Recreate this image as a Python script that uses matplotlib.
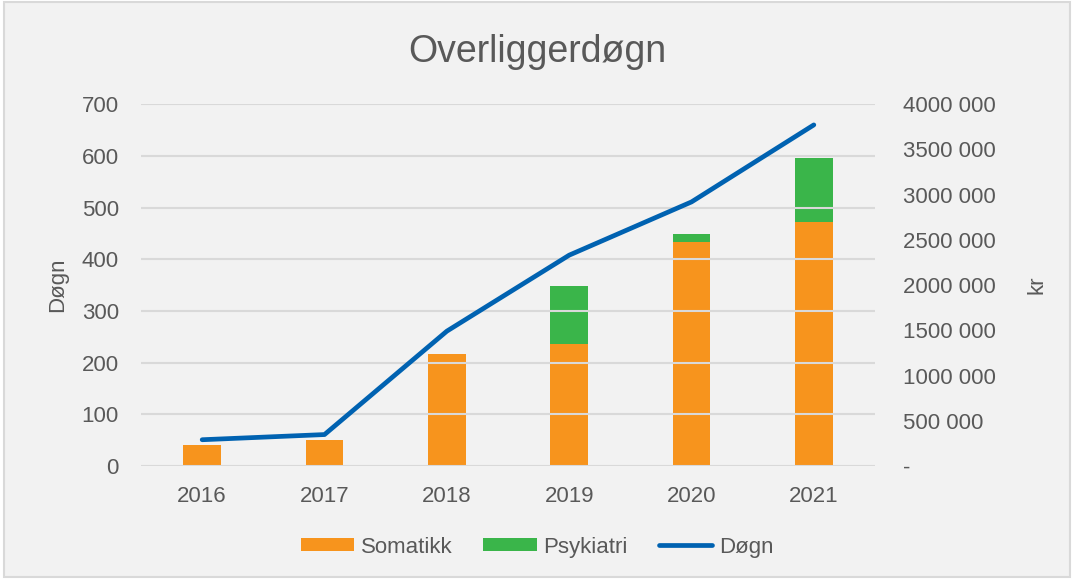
import matplotlib.pyplot as plt
from matplotlib.patches import Rectangle

plt.rcParams['font.family'] = ['Liberation Sans', 'DejaVu Sans']

years = ['2016', '2017', '2018', '2019', '2020', '2021']
somatikk_kr = [228000, 284000, 1234000, 1348000, 2479000, 2694000]
psykiatri_kr = [0, 0, 0, 638000, 88000, 710000]
dogn = [51, 61, 261, 408, 511, 660]

left_ticks = [0, 100, 200, 300, 400, 500, 600, 700]
right_ticks = [0, 500000, 1000000, 1500000, 2000000, 2500000, 3000000, 3500000, 4000000]
right_labels = ['-', '500 000', '1000 000', '1500 000', '2000 000', '2500 000',
                '3000 000', '3500 000', '4000 000']

bg = '#F2F2F2'
txt = '#595959'
c_som = '#F7941D'
c_psy = '#3AB54A'
c_line = '#0062B1'

fig = plt.figure(figsize=(10.74, 5.79), dpi=100, facecolor='white')
fig.patches.append(Rectangle((0.004, 0.004), 0.992, 0.992, transform=fig.transFigure,
                             facecolor=bg, edgecolor='#D9D9D9', lw=1.5, zorder=-10))

ax1 = fig.add_axes([0.1313, 0.195, 0.6834, 0.625])
ax2 = ax1.twinx()

x = list(range(len(years)))
ax2.bar(x, somatikk_kr, width=0.31, color=c_som, label='Somatikk')
ax2.bar(x, psykiatri_kr, width=0.31, bottom=somatikk_kr, color=c_psy, label='Psykiatri')
ax1.plot(x, dogn, color=c_line, lw=3.4, solid_capstyle='round', solid_joinstyle='round',
         label='Døgn')

ax1.set_zorder(ax2.get_zorder() + 1)
ax1.patch.set_visible(False)
ax2.patch.set_visible(False)

ax1.set_xlim(-0.5, 5.5)
ax1.set_ylim(0, 700)
ax2.set_ylim(0, 4000000)
ax1.set_yticks(left_ticks)
ax2.set_yticks(right_ticks)
ax2.set_yticklabels(right_labels)
ax1.set_xticks(x)
ax1.set_xticklabels(years)

ax1.yaxis.grid(True, color='#D9D9D9', lw=1.5)
ax1.set_axisbelow(True)
for a in (ax1, ax2):
    for s in a.spines.values():
        s.set_visible(False)
    a.tick_params(length=0, labelsize=16, colors=txt)
ax1.tick_params(axis='y', pad=16)
ax1.tick_params(axis='x', pad=14)
ax2.tick_params(axis='y', pad=20)

ax1.set_ylabel('Døgn', fontsize=16, color=txt, labelpad=10)
ax2.set_ylabel('kr', fontsize=16, color=txt, labelpad=22)

fig.text(0.5, 0.91, 'Overliggerdøgn', ha='center', va='center', fontsize=27, color=txt)

h2, l2 = ax2.get_legend_handles_labels()
h1, l1 = ax1.get_legend_handles_labels()
fig.legend(h2 + h1, l2 + l1, loc='center', bbox_to_anchor=(0.5, 0.055), ncol=3,
           frameon=False, fontsize=16, labelcolor=txt, handlelength=2.4,
           handleheight=0.55, handletextpad=0.3, columnspacing=1.4)

fig.savefig('out.png', dpi=100, facecolor=fig.get_facecolor())
